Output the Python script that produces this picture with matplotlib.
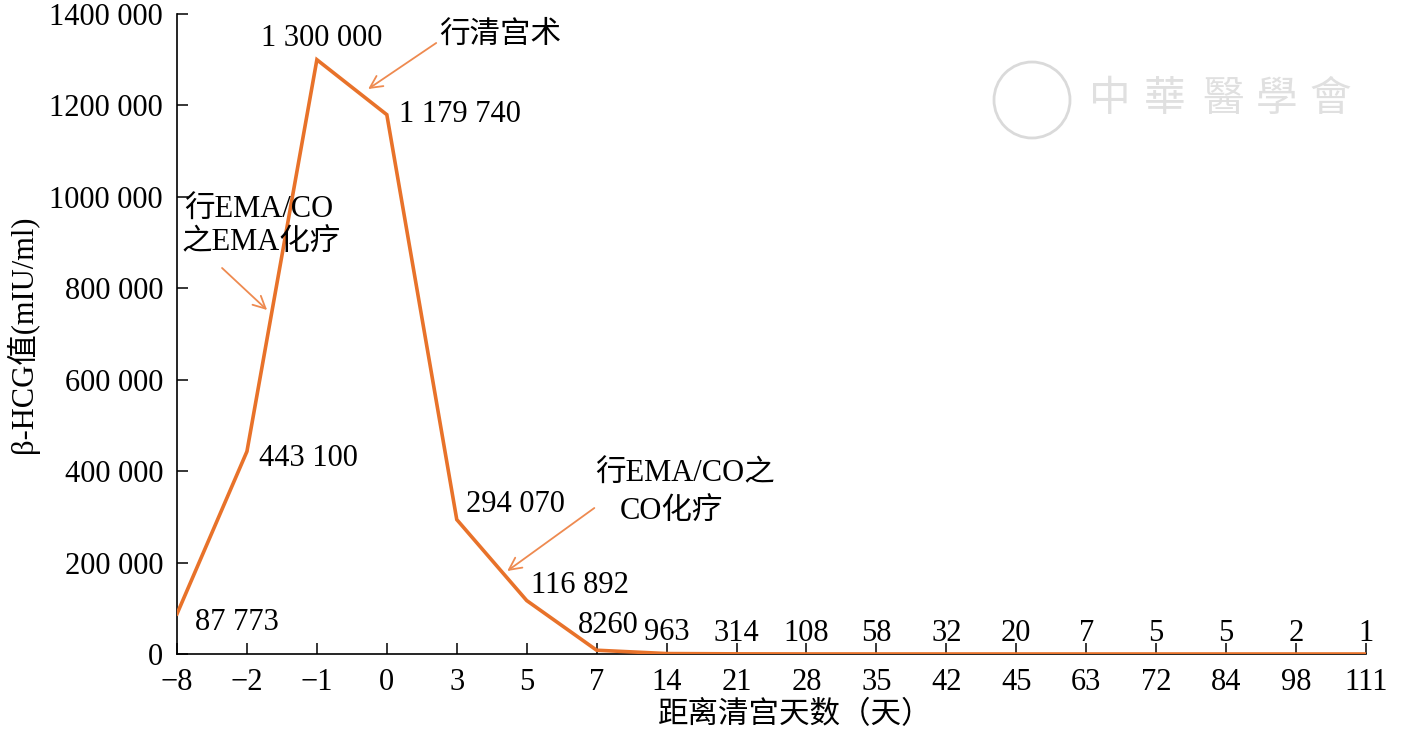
import matplotlib
matplotlib.use("Agg")
import matplotlib.pyplot as plt
from matplotlib.patches import Ellipse

plt.rcParams['font.family'] = ['Liberation Serif', 'Noto Sans CJK SC', 'DejaVu Sans']

# data
days = ['−8', '−2', '−1', '0', '3', '5', '7', '14', '21', '28', '35', '42',
        '45', '63', '72', '84', '98', '111']
hcg = [87773, 443100, 1300000, 1179740, 294070, 116892, 8260, 963, 314, 108,
       58, 32, 20, 7, 5, 5, 2, 1]
y_ticks = [0, 200000, 400000, 600000, 800000, 1000000, 1200000, 1400000]

line_color = '#E8722A'
arrow_color = '#EE8A50'
FS = 22


def value_label(v):
    if v >= 10000:
        return f"{v:,}".replace(',', ' ')
    return str(v)


def tick_label(v):
    if v == 0:
        return '0'
    return f"{v // 1000} {v % 1000:03d}"


fig = plt.figure(figsize=(14.17, 7.33), dpi=100)
ax = fig.add_axes([177 / 1417, 1 - 654 / 733, 1189 / 1417, 640 / 733])

x = list(range(len(days)))
ax.plot(x, hcg, color=line_color, linewidth=2.6, solid_joinstyle='miter', zorder=3)

ax.set_xlim(0, len(days) - 1)
ax.set_ylim(0, 1400000)
ax.set_xticks(x)
ax.set_xticklabels(days, fontsize=FS)
ax.set_yticks(y_ticks)
ax.set_yticklabels([tick_label(v) for v in y_ticks], fontsize=FS)
ax.tick_params(direction='in', length=8, width=1.1)
ax.tick_params(axis='y', pad=10)
ax.tick_params(axis='x', pad=10)
for side in ['top', 'right']:
    ax.spines[side].set_visible(False)
for side in ['left', 'bottom']:
    ax.spines[side].set_linewidth(1.2)

ax.set_xlabel('距离清宫天数（天）', fontsize=FS)
ax.set_ylabel('β-HCG值(mIU/ml)', fontsize=FS)
ax.xaxis.set_label_coords(0.52, -0.074)
ax.yaxis.set_label_coords(-0.116, 0.5)

# value labels (offsets in points from the data point)
offsets = {
    0: (13, -6.5, 'left'),
    1: (8.6, -4.8, 'left'),
    2: (3.6, 15.6, 'center'),
    3: (8.9, 0, 'left'),
    4: (6.8, 11.2, 'left'),
    5: (3.3, 11.2, 'left'),
    6: (8.4, 18.1, 'center'),
}
for i, v in enumerate(hcg):
    dx, dy, ha = offsets.get(i, (0, 15, 'center'))
    ax.annotate(value_label(v), xy=(i, v), xytext=(dx, dy),
                textcoords='offset points', ha=ha, va='center', fontsize=FS)

# treatment annotations
arrow = dict(arrowstyle='->', color=arrow_color, lw=1.3,
             mutation_scale=22, shrinkA=0, shrinkB=0)
ax.annotate('', xy=(2.733, 1235900), xytext=(3.706, 1336600), arrowprops=arrow)
ax.text(3.75, 1354000, '行清宫术', fontsize=FS, ha='left', va='center')

ax.annotate('', xy=(1.288, 752500), xytext=(0.644, 844400), arrowprops=arrow)
ax.text(0.10, 971000, '行EMA/CO', fontsize=FS, ha='left', va='center')
ax.text(0.07, 899000, '之EMA化疗', fontsize=FS, ha='left', va='center')

ax.annotate('', xy=(4.722, 181560), xytext=(5.967, 319375), arrowprops=arrow)
ax.text(7.27, 393700, '行EMA/CO之', fontsize=FS, ha='center', va='center')
ax.text(7.07, 310600, 'CO化疗', fontsize=FS, ha='center', va='center')

# faint watermark
fig.patches.append(Ellipse((1032 / 1417, 1 - 100 / 733), 76 / 1417, 76 / 733,
                           transform=fig.transFigure, fill=False,
                           edgecolor='#dadada', linewidth=2.0))
for cx, ch in zip([1110, 1165, 1223, 1277, 1330], '中華醫學會'):
    fig.text(cx / 1417, 1 - 100 / 733, ch, fontsize=30, color='#e0e0e0',
             family=['Noto Sans CJK TC'], ha='center', va='center')

fig.savefig('out.png', dpi=100, facecolor='white')
